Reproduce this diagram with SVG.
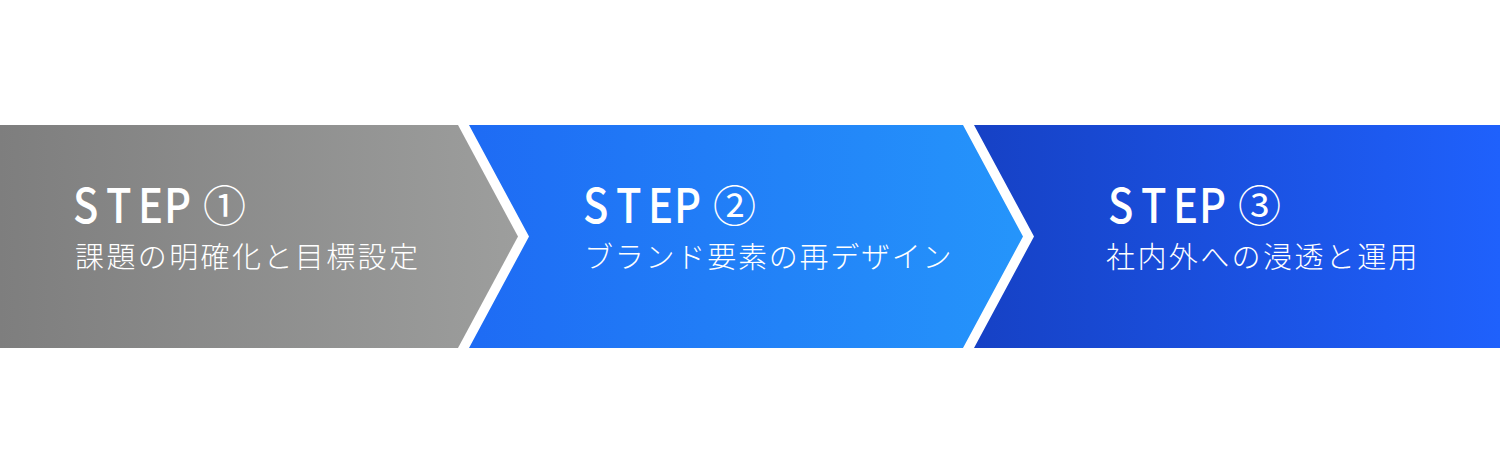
<svg xmlns="http://www.w3.org/2000/svg" width="1500" height="475" viewBox="0 0 1500 475">
<style>
.step{font-family:"Noto Sans CJK JP","Noto Sans",sans-serif;font-size:48px;font-weight:500;fill:#fff}
.num{font-family:"Noto Sans CJK JP",sans-serif;font-size:43px;font-weight:400;fill:#fff}
.sub{font-family:"Noto Sans CJK JP",sans-serif;font-size:29px;font-weight:300;fill:#fff;letter-spacing:2.4px}
</style>
<defs>
<linearGradient id="g1" x1="0" y1="0" x2="518" y2="0" gradientUnits="userSpaceOnUse">
<stop offset="0" stop-color="#7e7e7e"/><stop offset="1" stop-color="#9d9e9d"/>
</linearGradient>
<linearGradient id="g2" x1="469" y1="0" x2="1023" y2="0" gradientUnits="userSpaceOnUse">
<stop offset="0" stop-color="#1e6bf4"/><stop offset="1" stop-color="#2595fb"/>
</linearGradient>
<linearGradient id="g3" x1="974" y1="0" x2="1500" y2="0" gradientUnits="userSpaceOnUse">
<stop offset="0" stop-color="#1641c5"/><stop offset="1" stop-color="#1f61fc"/>
</linearGradient>
</defs>
<rect width="1500" height="475" fill="#fff"/>
<g id="step1">
<path d="M0,125 L458,125 L518,236.5 L458,348 L0,348 Z" fill="url(#g1)"/>
<text class="step" transform="translate(75,223) scale(0.87,1)" x="-2.3 35.6 72.4 102.3" y="0">STEP</text>
<text class="num" x="203" y="222">①</text>
<text class="sub" x="75" y="268">課題の明確化と目標設定</text>
</g>
<g id="step2">
<path d="M469,125 L963,125 L1023,236.5 L963,348 L469,348 L529,236.5 Z" fill="url(#g2)"/>
<text class="step" transform="translate(585,223) scale(0.87,1)" x="-2.3 35.6 72.4 102.3" y="0">STEP</text>
<text class="num" x="713" y="222">②</text>
<text class="sub" x="584" y="268" textLength="370">ブランド要素の再デザイン</text>
</g>
<g id="step3">
<path d="M974,125 L1500,125 L1500,348 L974,348 L1034,236.5 Z" fill="url(#g3)"/>
<text class="step" transform="translate(1110,223) scale(0.87,1)" x="-2.3 35.6 72.4 102.3" y="0">STEP</text>
<text class="num" x="1238" y="222">③</text>
<text class="sub" x="1106" y="268">社内外への浸透と運用</text>
</g>
<g id="connectors"/>
</svg>
